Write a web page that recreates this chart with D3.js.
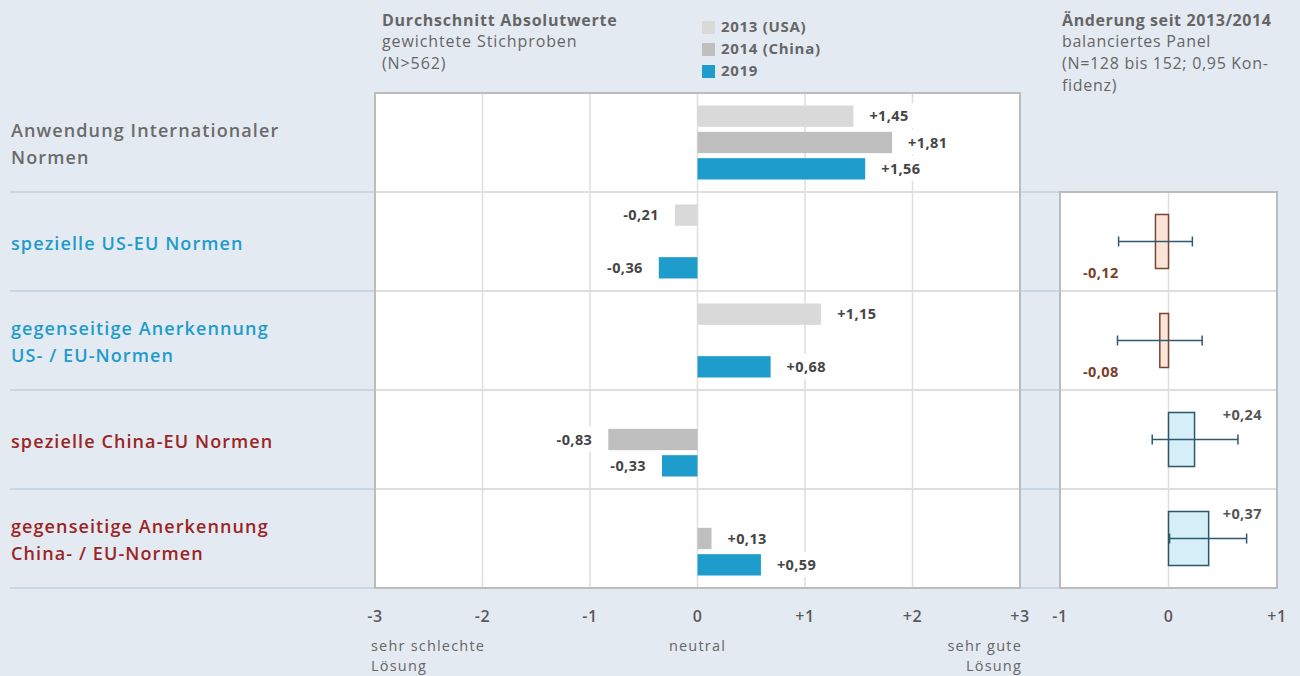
<!DOCTYPE html>
<html><head><meta charset="utf-8">
<script src="https://cdn.jsdelivr.net/npm/d3@7"></script>
<style>
html,body{margin:0;padding:0;background:#e4eaf2;}
svg{display:block;font-family:"Open Sans",sans-serif;}
</style></head>
<body><svg id="c" width="1300" height="676"></svg>
<script>
const categories = ["Anwendung Internationaler|Normen","spezielle US-EU Normen","gegenseitige Anerkennung|US- / EU-Normen","spezielle China-EU Normen","gegenseitige Anerkennung|China- / EU-Normen"];
const categoryColors = ["#6b6b6b","#1e9ccc","#1e9ccc","#9b2525","#9b2525"];
const series = ["2013","2014","2019"];
const seriesLabels = ["2013 (USA)","2014 (China)","2019"];
const seriesColors = ["#d9d9d9","#bfbfbf","#1e9ccc"];
const values2013 = [1.45,-0.21,1.15,null,null];
const values2014 = [1.81,null,null,-0.83,0.13];
const values2019 = [1.56,-0.36,0.68,-0.33,0.59];
const changeValues = [null,-0.12,-0.08,0.24,0.37];
const ciLow = [null,-0.46,-0.47,-0.15,0.01];
const ciHigh = [null,0.22,0.31,0.64,0.72];
const mainTicks = [-3,-2,-1,0,1,2,3];
const mainTickLabels = ["-3","-2","-1","0","+1","+2","+3"];
const changeTicks = [-1,0,1];
const changeTickLabels = ["-1","0","+1"];

const svg = d3.select("#c");
const fmt = v => (v>0?"+":"") + d3.format(".2f")(v).replace(".",",").replace("\u2212","-");

const x = d3.scaleLinear().domain([-3,3]).range([375,1020]);
const xr = d3.scaleLinear().domain([-1,1]).range([1060,1277]);
const y = d3.scaleBand().domain(d3.range(categories.length)).range([93,588]);
const ys = d3.scaleBand().domain(series).range([-39.5,39.5]).paddingInner(0.19).paddingOuter(0.095);

// row separators in background
svg.append("g").selectAll("line").data(d3.range(1,categories.length+1)).join("line")
  .attr("x1",10).attr("x2",1277)
  .attr("y1",i=>y(i)===undefined? y.range()[1] : y(i)).attr("y2",i=>y(i)===undefined? y.range()[1] : y(i))
  .attr("stroke","#c9d6e4").attr("stroke-width",2);

// main panel
const mp = svg.append("g");
mp.append("rect").attr("x",x(-3)).attr("y",y.range()[0]).attr("width",x(3)-x(-3)).attr("height",y.range()[1]-y.range()[0]).attr("fill","#fff");
mp.append("g").selectAll("line").data(mainTicks.slice(1,-1)).join("line")
  .attr("x1",d=>x(d)).attr("x2",d=>x(d)).attr("y1",y.range()[0]).attr("y2",y.range()[1])
  .attr("stroke","#dedede").attr("stroke-width",1.5);
mp.append("g").selectAll("line").data(d3.range(1,categories.length)).join("line")
  .attr("x1",x(-3)).attr("x2",x(3)).attr("y1",i=>y(i)).attr("y2",i=>y(i))
  .attr("stroke","#dedede").attr("stroke-width",2);

const allVals = [values2013,values2014,values2019];
const bars = [];
allVals.forEach((arr,si)=>arr.forEach((v,ci)=>{ if(v!==null) bars.push({v,ci,si}); }));
const barH = ys.bandwidth();
mp.append("g").selectAll("rect").data(bars).join("rect")
  .attr("x",d=>Math.min(x(0),x(d.v))).attr("width",d=>Math.abs(x(d.v)-x(0)))
  .attr("y",d=>y(d.ci)+y.bandwidth()/2+ys(series[d.si])).attr("height",barH)
  .attr("fill",d=>seriesColors[d.si]);
const lab = mp.append("g").selectAll("g").data(bars).join("g")
  .attr("transform",d=>`translate(${d.v>=0? x(d.v)+16 : x(d.v)-16},${y(d.ci)+y.bandwidth()/2+ys(series[d.si])+barH/2})`);
lab.append("text").attr("text-anchor",d=>d.v>=0?"start":"end").attr("dy","0.35em")
  .attr("font-size",14.5).attr("font-weight",700).attr("letter-spacing",0.4).attr("fill","#454545").text(d=>fmt(d.v))
  .each(function(){ const b=this.getBBox(); d3.select(this.parentNode).insert("rect","text").attr("x",b.x-6).attr("y",b.y-3).attr("width",b.width+12).attr("height",b.height+6).attr("fill","#fff"); });
// frame
mp.append("rect").attr("x",x(-3)).attr("y",y.range()[0]).attr("width",x(3)-x(-3)).attr("height",y.range()[1]-y.range()[0])
  .attr("fill","none").attr("stroke","#bcbcbc").attr("stroke-width",2);

// main axis labels
svg.append("g").selectAll("text").data(mainTicks).join("text")
  .attr("x",d=>x(d)).attr("y",622).attr("text-anchor","middle").attr("font-size",16).attr("font-weight",600).attr("letter-spacing",0.5).attr("fill","#5a5a5a")
  .text((d,i)=>mainTickLabels[i]);
const axisNotes = svg.append("g").attr("font-size",14.5).attr("letter-spacing",1.2).attr("fill","#666");
const noteL = axisNotes.append("text");
noteL.append("tspan").attr("x",x(-3)-4).attr("y",651).text("sehr schlechte");
noteL.append("tspan").attr("x",x(-3)-4).attr("y",671).text("Lösung");
axisNotes.append("text").attr("x",x(0)).attr("y",651).attr("text-anchor","middle").text("neutral");
const noteR = axisNotes.append("text").attr("text-anchor","end");
noteR.append("tspan").attr("x",x(3)+2).attr("y",651).text("sehr gute");
noteR.append("tspan").attr("x",x(3)+2).attr("y",671).text("Lösung");

// change panel
const rp = svg.append("g");
const rTop = y(1), rBot = y.range()[1];
rp.append("rect").attr("x",xr(-1)).attr("y",rTop).attr("width",xr(1)-xr(-1)).attr("height",rBot-rTop).attr("fill","#fff");
rp.append("line").attr("x1",xr(0)).attr("x2",xr(0)).attr("y1",rTop).attr("y2",rBot).attr("stroke","#dedede").attr("stroke-width",1.5);
rp.append("g").selectAll("line").data(d3.range(2,categories.length)).join("line")
  .attr("x1",xr(-1)).attr("x2",xr(1)).attr("y1",i=>y(i)).attr("y2",i=>y(i)).attr("stroke","#dedede").attr("stroke-width",2);
const ch = changeValues.map((v,i)=>({v,i,lo:ciLow[i],hi:ciHigh[i]})).filter(d=>d.v!==null);
const boxH = 54;
rp.append("g").selectAll("rect").data(ch).join("rect")
  .attr("x",d=>Math.min(xr(0),xr(d.v))).attr("width",d=>Math.abs(xr(d.v)-xr(0)))
  .attr("y",d=>y(d.i)+y.bandwidth()/2-boxH/2).attr("height",boxH)
  .attr("fill",d=>d.v<0?"#fde4d7":"#d6eef8").attr("stroke",d=>d.v<0?"#7a4434":"#2a566a").attr("stroke-width",1.5);
const wh = rp.append("g").attr("stroke","#2d5a6c").attr("stroke-width",1.5);
ch.forEach(d=>{
  const cy = y(d.i)+y.bandwidth()/2;
  wh.append("line").attr("x1",xr(d.lo)).attr("x2",xr(d.hi)).attr("y1",cy).attr("y2",cy);
  wh.append("line").attr("x1",xr(d.lo)).attr("x2",xr(d.lo)).attr("y1",cy-5).attr("y2",cy+5);
  wh.append("line").attr("x1",xr(d.hi)).attr("x2",xr(d.hi)).attr("y1",cy-5).attr("y2",cy+5);
});
rp.append("g").selectAll("text").data(ch).join("text")
  .attr("x",d=>d.v<0? xr(-1)+23 : xr(1)-15)
  .attr("y",d=>d.v<0? y(d.i)+y.bandwidth()/2+boxH/2+4 : y(d.i)+y.bandwidth()/2-boxH/2+2)
  .attr("dy","0.35em").attr("text-anchor",d=>d.v<0?"start":"end")
  .attr("font-size",14.5).attr("font-weight",700).attr("letter-spacing",0.4).attr("fill",d=>d.v<0?"#7a3e2a":"#555")
  .text(d=>fmt(d.v));
rp.append("rect").attr("x",xr(-1)).attr("y",rTop).attr("width",xr(1)-xr(-1)).attr("height",rBot-rTop)
  .attr("fill","none").attr("stroke","#bcbcbc").attr("stroke-width",2);
svg.append("g").selectAll("text").data(changeTicks).join("text")
  .attr("x",d=>xr(d)).attr("y",622).attr("text-anchor","middle").attr("font-size",16).attr("font-weight",600).attr("letter-spacing",0.5).attr("fill","#5a5a5a")
  .text((d,i)=>changeTickLabels[i]);

// category labels
const cl = svg.append("g").selectAll("text").data(categories).join("text")
  .attr("font-size",18).attr("font-weight",600).attr("letter-spacing",1.1).attr("fill",(d,i)=>categoryColors[i]);
cl.each(function(d,i){
  const lines = d.split("|");
  const cy = y(i)+y.bandwidth()/2+2;
  lines.forEach((t,k)=>{
    d3.select(this).append("tspan").attr("x",11).attr("y",cy+(k-(lines.length-1)/2)*27).attr("dy","0.35em").text(t);
  });
});

// headers
const h1 = svg.append("g").attr("fill","#666").attr("font-size",16).attr("letter-spacing",0.9);
h1.append("text").attr("x",382).attr("y",26).attr("font-weight",700).attr("letter-spacing",0.75).text("Durchschnitt Absolutwerte");
h1.append("text").attr("x",382).attr("y",47).text("gewichtete Stichproben");
h1.append("text").attr("x",382).attr("y",69).text("(N>562)");
const h2 = svg.append("g").attr("fill","#666").attr("font-size",16).attr("letter-spacing",0.7);
h2.append("text").attr("x",1062).attr("y",26).attr("font-weight",700).attr("letter-spacing",0.6).text("Änderung seit 2013/2014");
h2.append("text").attr("x",1062).attr("y",47).text("balanciertes Panel");
h2.append("text").attr("x",1062).attr("y",69).text("(N=128 bis 152; 0,95 Kon-");
h2.append("text").attr("x",1062).attr("y",91).text("fidenz)");

// legend
const lg = svg.append("g").selectAll("g").data(series).join("g")
  .attr("transform",(d,i)=>`translate(702,${21+i*22})`);
lg.append("rect").attr("width",13).attr("height",13).attr("fill",(d,i)=>seriesColors[i]);
lg.append("text").attr("x",19).attr("y",6).attr("dy","0.35em").attr("font-size",15).attr("font-weight",700).attr("letter-spacing",0.7).attr("fill","#666")
  .text((d,i)=>seriesLabels[i]);
</script></body></html>
